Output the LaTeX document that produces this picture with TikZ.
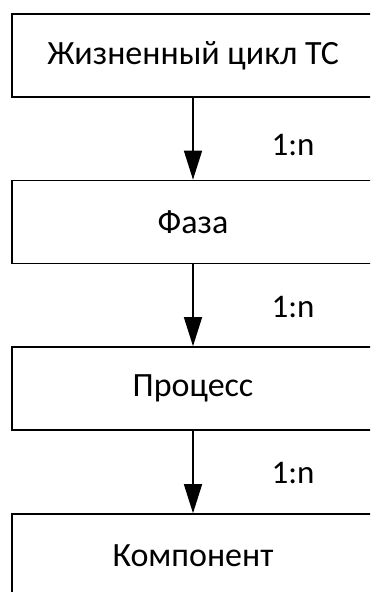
\documentclass[tikz,border=0pt]{standalone}
\usepackage{fontspec}
\setmainfont{Carlito}
\usetikzlibrary{arrows.meta}
\begin{document}
\begin{tikzpicture}[x=1pt,y=-1pt,
  entity/.style={draw=black, line width=1.6pt, minimum width=362pt, minimum height=83pt,
    inner sep=0pt, font=\fontsize{34}{40}\selectfont},
  link/.style={draw=black, line width=1.5pt, -{Triangle[width=18pt,length=29pt]}},
  card/.style={font=\fontsize{33}{39}\selectfont}]
\useasboundingbox (0,0) rectangle (370,592);
\clip (0,0) rectangle (370,592);
% entity boxes, stacked top to bottom
\node[entity] (life) at (193,55.5) {Жизненный цикл ТС};
\node[entity] (phase) at (193,222) {Фаза};
\node[entity] (proc) at (193,388.5) {Процесс};
\node[entity] (comp) at (193,555.5) {Компонент};
% one-to-many links between consecutive levels
\draw[link] (life.south) -- (phase.north);
\draw[link] (phase.south) -- (proc.north);
\draw[link] (proc.south) -- (comp.north);
% cardinality labels
\node[card] (c1) at (293,145) {1:n};
\node[card] (c2) at (293,307) {1:n};
\node[card] (c3) at (293,473) {1:n};
\end{tikzpicture}
\end{document}
